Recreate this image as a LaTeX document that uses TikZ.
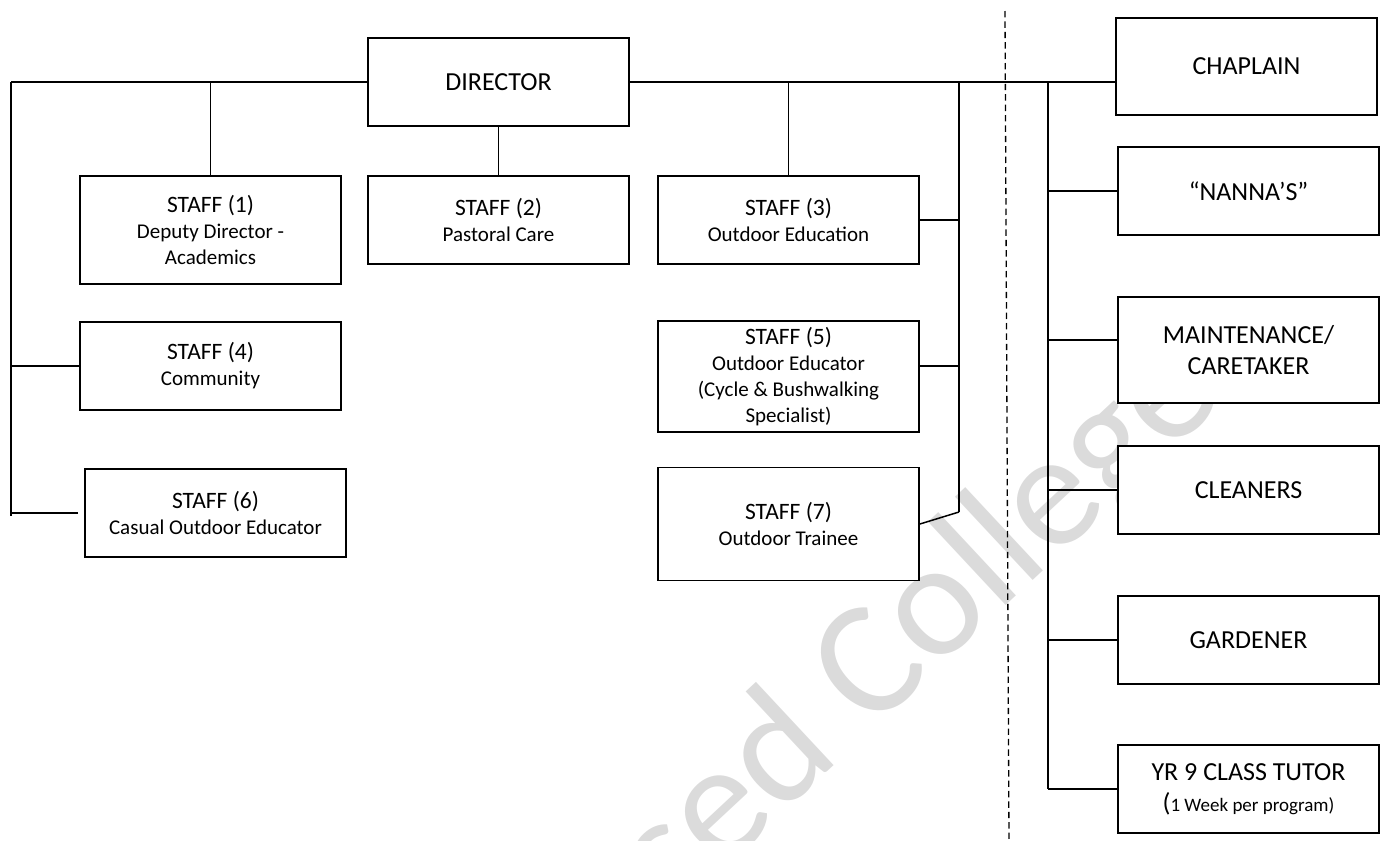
\documentclass[tikz,border=0pt]{standalone}
\usepackage{fontspec}
\setmainfont{Carlito}
\newcommand\stafftitle[1]{{\fontsize{11.75}{13}\selectfont #1}}
\begin{document}
\begin{tikzpicture}[x=0.5pt,y=-0.5pt,
  box/.style={draw,line width=0.9pt,fill=white,minimum width=130.5pt,minimum height=44pt,
    inner sep=2pt,align=center,font=\fontsize{10.5}{13}\selectfont},
  rbox/.style={box,font=\fontsize{13}{15.5}\selectfont},
  link/.style={line width=0.75pt},
  wmark/.style={text=black!14,font=\fontsize{82}{84}\selectfont,inner sep=0pt,anchor=base west,rotate=43}]

\useasboundingbox (0,0) rectangle (1383,841);

\node[wmark] (wm) at (673,916) {sed College};

\node[rbox] (director) at (498.5,82) {DIRECTOR};

\node[box,minimum height=54pt] (staff1) at (210.5,230) {\stafftitle{STAFF (1)}\\Deputy Director -\\Academics};
\node[box] (staff2) at (498.5,220) {\stafftitle{STAFF (2)}\\Pastoral Care};
\node[box] (staff3) at (788.5,220) {\stafftitle{STAFF (3)}\\Outdoor Education};
\node[box] (staff4) at (210.5,366) {\stafftitle{STAFF (4)}\\Community};
\node[box,minimum height=55.5pt] (staff5) at (788.5,376.5) {\stafftitle{STAFF (5)}\\Outdoor Educator\\(Cycle \& Bushwalking\\Specialist)};
\node[box] (staff6) at (215.5,513) {\stafftitle{STAFF (6)}\\Casual Outdoor Educator};
\node[box,minimum height=56.5pt] (staff7) at (788.5,524) {\stafftitle{STAFF (7)}\\Outdoor Trainee};

\node[rbox,minimum height=48.5pt] (chaplain) at (1246.5,66.5) {CHAPLAIN};
\node[rbox] (nannas) at (1248.5,191) {“NANNA’S”};
\node[rbox,minimum height=53pt] (maint) at (1248.5,350) {MAINTENANCE/\\CARETAKER};
\node[rbox] (cleaners) at (1248.5,490) {CLEANERS};
\node[rbox] (gardener) at (1248.5,640) {GARDENER};
\node[rbox] (yrtutor) at (1248.5,789) {YR 9 CLASS TUTOR\\{\fontsize{9.5}{15.5}\selectfont{\fontsize{13}{15.5}\selectfont(}1 Week per program)}};

\coordinate (ltop) at (11,82);
\coordinate (lbot) at (11,516);
\coordinate (mtop) at (959,82);
\coordinate (mbot) at (959,512);
\coordinate (rtop) at (1048,82);
\coordinate (dtop) at (1005,11);
\coordinate (dbot) at (1009,841);

\draw[link] (ltop) -- (director.west);
\draw[link] (director.east) -- (director.east -| chaplain.west);
\draw[link] (ltop) -- (lbot);
\draw[link] (staff1.north) -- (staff1.north |- ltop);
\draw[link] (director.south) -- (staff2.north);
\draw[link] (staff3.north) -- (staff3.north |- mtop);
\draw[link] (staff4.west) -- (staff4.west -| ltop);
\draw[link] ([xshift=-3pt]staff6.west) -- (staff6.west -| ltop);

\draw[link] (mtop) -- (mbot);
\draw[link] (staff3.east) -- (staff3.east -| mtop);
\draw[link] ([yshift=5.25pt]staff5.east) -- ([yshift=5.25pt]staff5.east -| mtop);
\draw[link] (staff7.east) -- (mbot);

\draw[link] (rtop) -- (yrtutor.west -| rtop);
\foreach \n in {nannas,cleaners,gardener,yrtutor}
  \draw[link] (\n.west) -- (\n.west -| rtop);
\draw[link] ([yshift=5pt]maint.west) -- ([yshift=5pt]maint.west -| rtop);

\draw[line width=0.65pt,dash pattern=on 3.2pt off 2pt] (dtop) -- (dbot);

\end{tikzpicture}
\end{document}
